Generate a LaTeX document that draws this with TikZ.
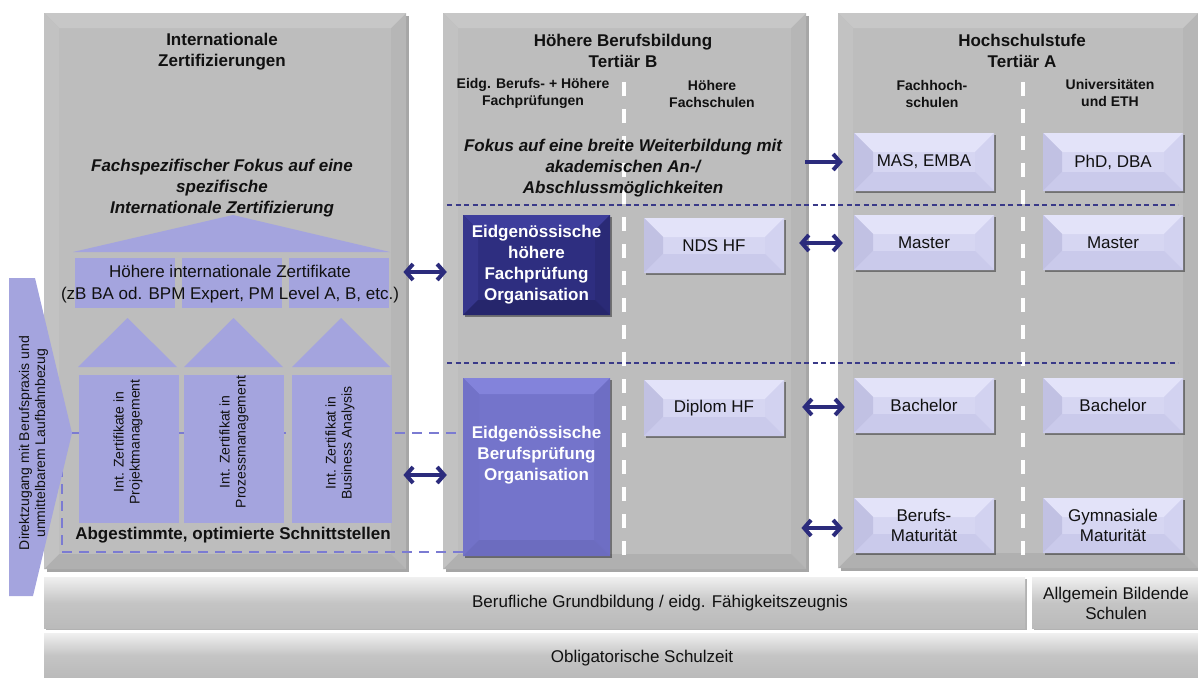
\documentclass[tikz,border=0pt]{standalone}
\usepackage{fontspec}
\setmainfont{Liberation Sans}
\usetikzlibrary{arrows.meta,shadows}
\definecolor{panelc}{HTML}{BDBDBD}
\definecolor{pantop}{HTML}{C7C7C7}
\definecolor{panleft}{HTML}{C2C2C2}
\definecolor{panright}{HTML}{B6B6B6}
\definecolor{panbot}{HTML}{B0B0B0}
\definecolor{lav}{HTML}{A4A4DE}
\definecolor{lavdark}{HTML}{7B7BD2}
\definecolor{navyc}{HTML}{2E2E80}
\definecolor{navytop}{HTML}{3E3E9C}
\definecolor{navyleft}{HTML}{36368C}
\definecolor{navyright}{HTML}{2A2A76}
\definecolor{navybot}{HTML}{26266C}
\definecolor{mbluec}{HTML}{7474CB}
\definecolor{mbluetop}{HTML}{8383DB}
\definecolor{mblueleft}{HTML}{7272C8}
\definecolor{mblueright}{HTML}{6E6EC4}
\definecolor{mbluebot}{HTML}{6C6CBF}
\definecolor{lboxc}{HTML}{D6D6F2}
\definecolor{lboxtop}{HTML}{E3E3F9}
\definecolor{lboxleft}{HTML}{C1C1E3}
\definecolor{lboxright}{HTML}{D2D2F0}
\definecolor{lboxbot}{HTML}{CACAEB}
\definecolor{arrowc}{HTML}{2B2B7C}
\definecolor{dashnavy}{HTML}{3A3A88}
\definecolor{txtc}{HTML}{111111}
\newcommand\bevfill[5]{%
  \coordinate (bNW) at (path picture bounding box.north west);
  \coordinate (bNE) at (path picture bounding box.north east);
  \coordinate (bSW) at (path picture bounding box.south west);
  \coordinate (bSE) at (path picture bounding box.south east);
  \fill[#2] (bNW) -- (bNE) -- ([shift={(-#1,-#1)}]bNE) -- ([shift={(#1,-#1)}]bNW) -- cycle;
  \fill[#3] (bNW) -- (bSW) -- ([shift={(#1,#1)}]bSW) -- ([shift={(#1,-#1)}]bNW) -- cycle;
  \fill[#4] (bNE) -- (bSE) -- ([shift={(-#1,#1)}]bSE) -- ([shift={(-#1,-#1)}]bNE) -- cycle;
  \fill[#5] (bSW) -- (bSE) -- ([shift={(-#1,#1)}]bSE) -- ([shift={(#1,#1)}]bSW) -- cycle;
}
\tikzset{
  every node/.style={inner sep=0pt, align=center, text=txtc},
  panel/.style={anchor=north west, fill=panelc,
    drop shadow={shadow xshift=2.5pt, shadow yshift=-2.5pt, fill=black, opacity=0.35},
    path picture={\bevfill{15pt}{pantop}{panleft}{panright}{panbot}}},
  bar/.style={anchor=north west, top color=white!94!black, bottom color=black!27, middle color=black!23,
    drop shadow={shadow xshift=1.5pt, shadow yshift=-2pt, fill=black, opacity=0.3}},
  bartxt/.style={font=\fontsize{17}{20}\selectfont},
  lbox/.style={fill=lboxc, minimum width=140, minimum height=55, font=\fontsize{17}{20}\selectfont,
    drop shadow={shadow xshift=1.5pt, shadow yshift=-2pt, fill=black, opacity=0.4},
    path picture={\bevfill{19pt}{lboxtop}{lboxleft}{lboxright}{lboxbot}}},
  navybox/.style={fill=navyc, minimum width=147, minimum height=100,
    drop shadow={shadow xshift=1.5pt, shadow yshift=-2pt, fill=black, opacity=0.4},
    path picture={\bevfill{15pt}{navytop}{navyleft}{navyright}{navybot}}},
  bluebox/.style={fill=mbluec, minimum width=147, minimum height=178,
    drop shadow={shadow xshift=1.5pt, shadow yshift=-2pt, fill=black, opacity=0.4},
    path picture={\bevfill{16pt}{mbluetop}{mblueleft}{mblueright}{mbluebot}}},
  wtext/.style={text=white, font=\bfseries\fontsize{17}{21}\selectfont},
  ttl/.style={font=\bfseries\fontsize{17}{21}\selectfont},
  subh/.style={font=\bfseries\fontsize{14}{17}\selectfont},
  foc/.style={font=\bfseries\itshape\fontsize{17}{21}\selectfont},
  txt/.style={font=\fontsize{17}{22}\selectfont},
  rottxt/.style={font=\fontsize{14}{16}\selectfont, rotate=90},
  lavrect/.style={fill=lav},
  wdash/.style={draw=white, line width=4pt, dash pattern=on 14pt off 13pt},
  ndash/.style={draw=dashnavy, line width=1.4pt, dash pattern=on 5pt off 3.5pt},
  ldash/.style={draw=lavdark, line width=2.5pt, dash pattern=on 10pt off 7pt},
  >={Straight Barb[length=7pt,width=16pt]},
  dbl/.style={draw=arrowc, line width=4pt, <->},
  sgl/.style={draw=arrowc, line width=4pt, ->},
}
\begin{document}
\begin{tikzpicture}[x=1pt,y=-1pt]
\useasboundingbox (0,0) rectangle (1198,677);

% panels
\node[panel, minimum width=362, minimum height=556] (p1) at (44,13) {};
\node[panel, minimum width=363, minimum height=556] (p2) at (443,13) {};
\node[panel, minimum width=360, minimum height=555] (p3) at (838,13) {};

% bottom bars
\node[bar, minimum width=981, minimum height=51] (b1) at (44,577) {};
\node[bartxt] (b1t) at (660,603) {Berufliche Grundbildung / eidg. F\"ahigkeitszeugnis};
\node[bar, minimum width=166, minimum height=51] (b2) at (1032,577) {};
\node[bartxt] (b2t) at (1116,603) {Allgemein Bildende\\Schulen};
\node[bar, minimum width=1154, minimum height=44] (b3) at (44,633) {};
\node[bartxt] (b3t) at (642,658) {Obligatorische Schulzeit};

% panel 1 texts
\node[ttl] (t1) at (222,51.5) {Internationale\\Zertifizierungen};
\node[foc] (f1) at (222,188) {Fachspezifischer Fokus auf eine\\spezifische\\Internationale Zertifizierung};

% dashed lavender bracket
\coordinate (tip) at (72,433);
\coordinate (dl) at (62,433);
\coordinate (dlb) at (62,552);

% panel 2 / 3 dividers
\draw[wdash] (624,82) -- (624,556);
\draw[wdash] (1023,82) -- (1023,556);
\draw[ndash] (447,205) -- (1178,205);
\draw[ndash] (447,363) -- (1178,363);

% panel 2 texts
\node[ttl] (t2) at (623,50.5) {H\"ohere Berufsbildung\\Terti\"ar B};
\node[subh] (s21) at (533,93.5) {Eidg. Berufs- + H\"ohere\\Fachpr\"ufungen};
\node[subh] (s22) at (712,93.5) {H\"ohere\\Fachschulen};
\node[foc] (f2) at (623,168) {Fokus auf eine breite Weiterbildung mit\\akademischen An-/\\Abschlussm\"oglichkeiten};

% panel 3 texts
\node[ttl] (t3) at (1022,50.5) {Hochschulstufe\\Terti\"ar A};
\node[subh] (s31) at (932,93.5) {Fachhoch-\\schulen};
\node[subh] (s32) at (1110,93) {Universit\"aten\\und ETH};

% boxes in panel 2
\node[navybox] (ehf) at (536.5,265) {};
\node[wtext] (ehft) at (ehf.center) {Eidgen\"ossische\\h\"ohere\\Fachpr\"ufung\\Organisation};
\node[bluebox] (ebp) at (536.5,467) {};
\node[lbox] (nds) at (714,245.5) {NDS HF};
\node[lbox, minimum height=56] (dip) at (714,408) {Diplom HF};

% dashed lavender lines (behind the panel-1 structure)
\draw[ldash] (tip) -- (ebp.west |- tip);
\draw[ldash] (dl) -- (dlb) -- (ebp.west |- dlb);
\node[wtext] (ebpt) at (536.5,455) {Eidgen\"ossische\\Berufspr\"ufung\\Organisation};

% boxes in panel 3
\node[lbox, minimum height=58] (mas) at (924,162) {MAS, EMBA};
\node[lbox, minimum height=58] (phd) at (1113,162) {PhD, DBA};
\node[lbox] (ma1) at (924,242.5) {Master};
\node[lbox] (ma2) at (1113,242.5) {Master};
\node[lbox] (ba1) at (924,405.5) {Bachelor};
\node[lbox] (ba2) at (1113,405.5) {Bachelor};
\node[lbox] (bm) at (924,525.5) {Berufs-\\Maturit\"at};
\node[lbox] (gm) at (1113,525.5) {Gymnasiale\\Maturit\"at};

% panel 1 structure
\fill[lav] (73,252) -- (233,215) -- (390,252) -- cycle;
\node[lavrect, minimum width=100, minimum height=50] (r1) at (125,283) {};
\node[lavrect, minimum width=100, minimum height=50] (r2) at (232,283) {};
\node[lavrect, minimum width=100, minimum height=50] (r3) at (339,283) {};
\node[txt] (hz) at (230,284) {H\"ohere internationale Zertifikate\\(zB BA od. BPM Expert, PM Level A, B, etc.)};
\fill[lav] (78,367) -- (127.5,318) -- (177,367) -- cycle;
\fill[lav] (184,367) -- (233.5,318) -- (283,367) -- cycle;
\fill[lav] (292,367) -- (341,318) -- (390,367) -- cycle;
\node[lavrect, minimum width=100, minimum height=148] (c1) at (129,449) {};
\node[lavrect, minimum width=100, minimum height=148] (c2) at (234,449) {};
\node[lavrect, minimum width=100, minimum height=148] (c3) at (342,449) {};
\node[rottxt] (c1t) at (128,442) {Int. Zertifikate in\\Projektmanagement};
\node[rottxt] (c2t) at (234,442) {Int. Zertifikat in\\Prozessmanagement};
\node[rottxt] (c3t) at (340,443) {Int. Zertifikat in\\Business Analysis};
\node[ttl] (abg) at (233,535) {Abgestimmte, optimierte Schnittstellen};

% chevron on the left
\fill[lav] (9,278) -- (35,278) -- (tip) -- (33,596) -- (9,596) -- cycle;
\node[rottxt] (dz) at (33.5,443) {Direktzugang mit Berufspraxis und\\unmittelbarem Laufbahnbezug};

% arrows
\draw[dbl, shorten <=-3pt, shorten >=16pt] (p1.east |- 0,272) -- (ehf.west |- 0,272);
\draw[dbl, shorten <=-3pt, shorten >=16pt] (p1.east |- 0,475) -- (ebp.west |- 0,475);
\draw[sgl, shorten <=-1pt, shorten >=11pt] (p2.east |- mas.west) -- (mas.west);
\draw[dbl, shorten <=15pt, shorten >=11pt] (nds.east |- 0,243) -- (ma1.west |- 0,243);
\draw[dbl, shorten <=18pt, shorten >=9pt] (dip.east |- 0,407) -- (ba1.west |- 0,407);
\draw[dbl, shorten <=-5pt, shorten >=11pt] (p2.east |- 0,528) -- (bm.west |- 0,528);
\end{tikzpicture}
\end{document}
